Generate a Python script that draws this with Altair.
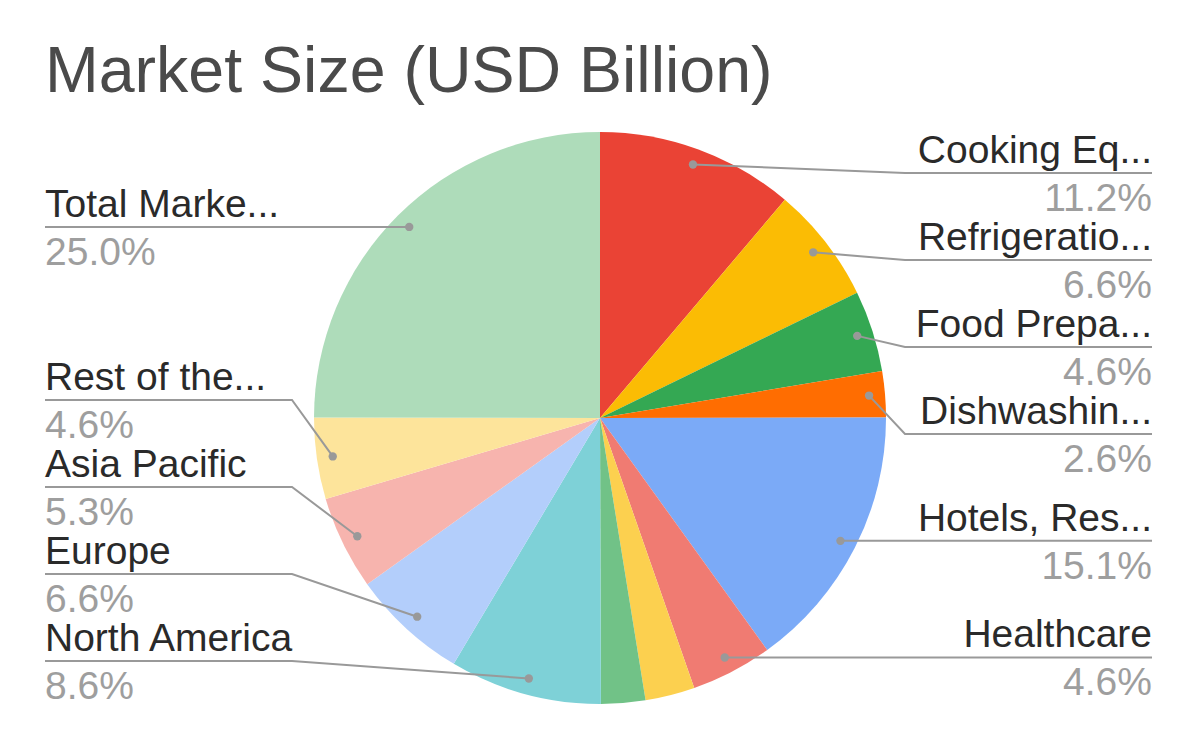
"""Pie chart of market size shares with Google-Sheets-style outside labels."""

import math

import altair as alt
import numpy as np
import pandas as pd

title = "Market Size (USD Billion)"

# slices clockwise from 12 o'clock; the two small slices after Healthcare
# carry no label in the original chart
segments = ["Cooking Eq...", "Refrigeratio...", "Food Prepa...", "Dishwashin...",
            "Hotels, Res...", "Healthcare", "Unlabelled A", "Unlabelled B",
            "North America", "Europe", "Asia Pacific", "Rest of the...",
            "Total Marke..."]
share = [11.2, 6.6, 4.6, 2.6, 15.1, 4.6, 2.8, 2.5, 8.6, 6.6, 5.3, 4.6, 25.0]
colors = ["#ea4335", "#fbbc04", "#34a853", "#ff6d01", "#7baaf7", "#f07b72",
          "#fcd04f", "#71c287", "#7ed1d7", "#b3cefb", "#f7b4ae", "#fde49b",
          "#aedcba"]

# layout (pixel units of the page)
PLOT_W, PLOT_H, PAD_TOP = 1184, 610, 110
X_DOMAIN = [8, 8 + PLOT_W]
Y_DOMAIN = [8 + PAD_TOP, 8 + PAD_TOP + PLOT_H]
CX, CY, R, DOT_R = 600, 418, 286, 270
RIGHT_COL, LEFT_COL, ELBOW = 1152, 45, 247
GAP, Y_MIN, Y_MAX = 87, 173, 661
FONT = "Liberation Sans"

x_scale = alt.Scale(domain=X_DOMAIN, nice=False, zero=False)
y_scale = alt.Scale(domain=Y_DOMAIN, nice=False, zero=False, reverse=True)


def build_slices() -> pd.DataFrame:
    """Returns one row per slice with angles and leader dot position."""
    df = pd.DataFrame({"segment": segments, "share": share})
    total = df["share"].sum()
    df["end"] = df["share"].cumsum()
    df["start"] = df["end"] - df["share"]
    df["pct"] = (df["share"] / total * 100).map("{:.1f}%".format)
    mid = (df["start"] + df["end"]) / 2 / total * 2 * math.pi
    df["dot_x"] = CX + DOT_R * np.sin(mid)
    df["dot_y"] = CY - DOT_R * np.cos(mid)
    df["side"] = np.where(mid < math.pi, "right", "left")
    df["cx"] = CX
    df["cy"] = CY
    return df


def place_labels(df: pd.DataFrame) -> pd.DataFrame:
    """Stacks labels in two columns, dropping those that no longer fit."""
    rows = []
    prev = -math.inf
    for _, r in df[df["side"] == "right"].iterrows():
        y = max(r["dot_y"], prev + GAP, Y_MIN)
        if y > Y_MAX:
            continue
        prev = y
        rows.append({**r, "label_y": y, "col_x": RIGHT_COL,
                     "elbow_x": RIGHT_COL - ELBOW})
    prev = math.inf
    for _, r in df[df["side"] == "left"].iterrows():
        y = min(r["dot_y"], prev - GAP, Y_MAX)
        if y < Y_MIN:
            continue
        prev = y
        rows.append({**r, "label_y": y, "col_x": LEFT_COL,
                     "elbow_x": LEFT_COL + ELBOW})
    return pd.DataFrame(rows)


def leader_points(labels: pd.DataFrame) -> pd.DataFrame:
    """Returns dot -> elbow -> column polylines for the leader lines."""
    pts = []
    for _, r in labels.iterrows():
        pts.append({"segment": r["segment"], "seq": 0, "x": r["dot_x"], "y": r["dot_y"]})
        pts.append({"segment": r["segment"], "seq": 1, "x": r["elbow_x"], "y": r["label_y"]})
        pts.append({"segment": r["segment"], "seq": 2, "x": r["col_x"], "y": r["label_y"]})
    return pd.DataFrame(pts)


slices = build_slices()
labels = place_labels(slices)
total = slices["share"].sum()

pie = alt.Chart(slices).mark_arc(radius=R).encode(
    x=alt.X("cx:Q", scale=x_scale, axis=None),
    y=alt.Y("cy:Q", scale=y_scale, axis=None),
    theta=alt.Theta("start:Q", scale=alt.Scale(domain=[0, total],
                                               range=[0, 2 * math.pi])),
    theta2="end:Q",
    color=alt.Color("segment:N", scale=alt.Scale(domain=segments, range=colors),
                    legend=None),
)

leaders = alt.Chart(leader_points(labels)).mark_line(
    color="#999999", strokeWidth=2
).encode(
    x=alt.X("x:Q", scale=x_scale, axis=None),
    y=alt.Y("y:Q", scale=y_scale, axis=None),
    detail="segment:N",
    order="seq:O",
)

dots = alt.Chart(labels).mark_circle(size=70, color="#999999", opacity=1).encode(
    x=alt.X("dot_x:Q", scale=x_scale, axis=None),
    y=alt.Y("dot_y:Q", scale=y_scale, axis=None),
)


def label_text(side: str, field: str, dy: int, color: str) -> alt.Chart:
    """Text layer for one label column."""
    return alt.Chart(labels[labels["side"] == side]).mark_text(
        align="right" if side == "right" else "left",
        baseline="alphabetic", dy=dy, font=FONT, fontSize=39, color=color
    ).encode(
        x=alt.X("col_x:Q", scale=x_scale, axis=None),
        y=alt.Y("label_y:Q", scale=y_scale, axis=None),
        text=f"{field}:N",
    )


texts = [label_text(s, f, dy, c) for s in ["right", "left"]
         for f, dy, c in [("segment", -10, "#2a2a2a"), ("pct", 38, "#9e9e9e")]]

chart = alt.layer(pie, leaders, dots, *texts).properties(
    width=PLOT_W,
    height=PLOT_H,
    padding={"left": 0, "top": PAD_TOP, "right": 0, "bottom": 0},
    autosize=alt.AutoSizeParams(type="none"),
    title=alt.TitleParams(title, anchor="start", dx=37, dy=60, offset=8,
                          baseline="bottom", font=FONT, fontSize=64.5,
                          fontWeight="normal", color="#4a4a4a"),
).configure_view(stroke=None)

chart.save("out.html", embed_options={"renderer": "svg", "actions": False})
